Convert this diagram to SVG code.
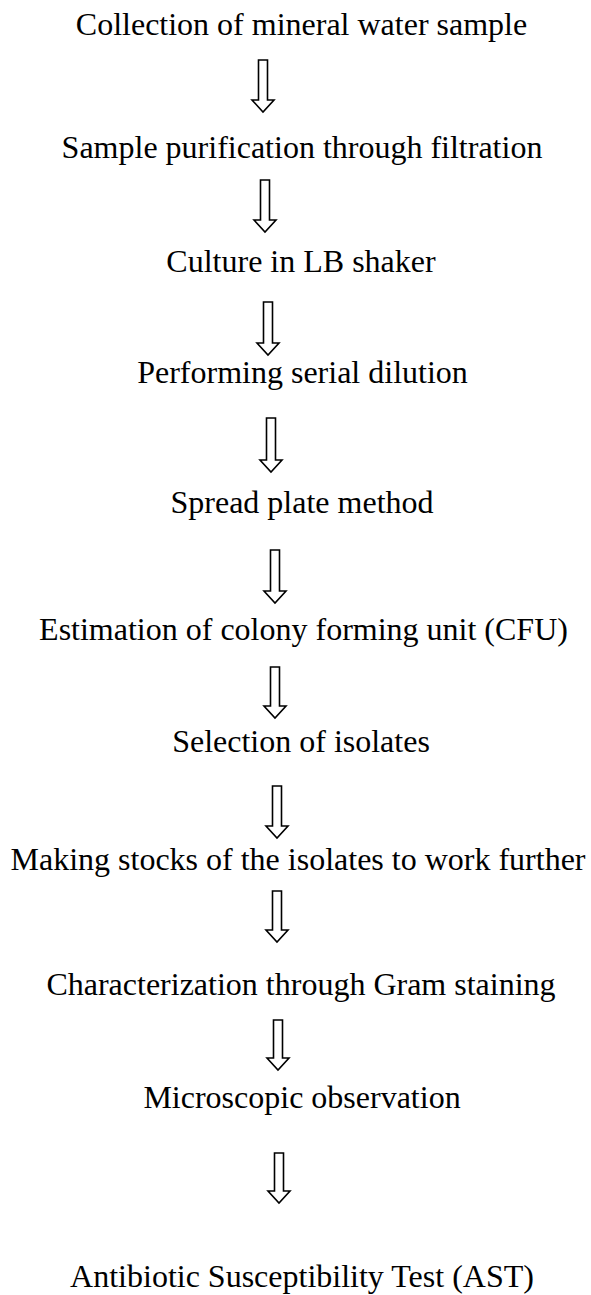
<svg xmlns="http://www.w3.org/2000/svg" width="591" height="1295" viewBox="0 0 591 1295">
<style>
.t{font-family:"Liberation Serif","Times New Roman",serif;font-size:32px;fill:#000;text-anchor:middle}
.a{fill:#fff;stroke:#000;stroke-width:1.6;stroke-linejoin:miter}
</style>
<rect width="591" height="1295" fill="#fff"/>
<g id="connectors">
<polygon class="a" points="258.5,60 267.5,60 267.5,100 274,100 263,112 252,100 258.5,100"/>
<polygon class="a" points="260.5,180 269.5,180 269.5,220 276,220 265,232 254,220 260.5,220"/>
<polygon class="a" points="263.5,302 272.5,302 272.5,343 279,343 268,355 257,343 263.5,343"/>
<polygon class="a" points="266.5,418 275.5,418 275.5,460 282,460 271,472 260,460 266.5,460"/>
<polygon class="a" points="270.5,550 279.5,550 279.5,591 286,591 275,603 264,591 270.5,591"/>
<polygon class="a" points="270.5,667 279.5,667 279.5,706 286,706 275,718 264,706 270.5,706"/>
<polygon class="a" points="272.5,786 281.5,786 281.5,826 288,826 277,838 266,826 272.5,826"/>
<polygon class="a" points="272.5,891 281.5,891 281.5,930 288,930 277,942 266,930 272.5,930"/>
<polygon class="a" points="273.5,1020 282.5,1020 282.5,1058 289,1058 278,1070 267,1058 273.5,1058"/>
<polygon class="a" points="274.5,1153 283.5,1153 283.5,1191 290,1191 279,1203 268,1191 274.5,1191"/>
</g>
<g id="n1"><text class="t" x="301.5" y="35">Collection of mineral water sample</text></g>
<g id="n2"><text class="t" x="302" y="158">Sample purification through filtration</text></g>
<g id="n3"><text class="t" x="301" y="272">Culture in LB shaker</text></g>
<g id="n4"><text class="t" x="302.5" y="383">Performing serial dilution</text></g>
<g id="n5"><text class="t" x="302" y="513">Spread plate method</text></g>
<g id="n6"><text class="t" x="303.5" y="640">Estimation of colony forming unit (CFU)</text></g>
<g id="n7"><text class="t" x="301" y="752">Selection of isolates</text></g>
<g id="n8"><text class="t" x="298" y="870">Making stocks of the isolates to work further</text></g>
<g id="n9"><text class="t" x="301" y="995">Characterization through Gram staining</text></g>
<g id="n10"><text class="t" x="302" y="1108">Microscopic observation</text></g>
<g id="n11"><text class="t" x="302" y="1287">Antibiotic Susceptibility Test (AST)</text></g>
</svg>
